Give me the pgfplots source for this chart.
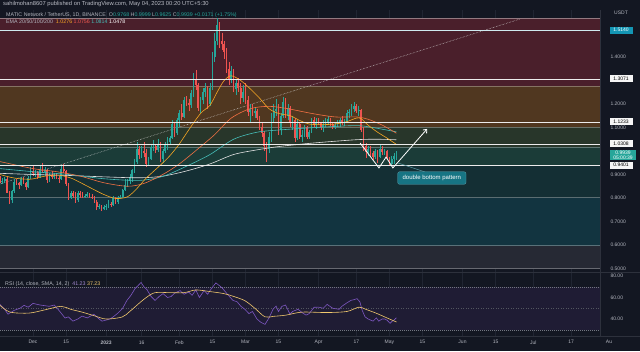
\documentclass[border=0pt]{standalone}
\usepackage{pgfplots}
\pgfplotsset{compat=1.18}
\usepackage{pgfplotstable}
\usepackage{fontspec}
\setmainfont{Liberation Sans}
\usetikzlibrary{arrows.meta}

\definecolor{bg}{RGB}{19,23,34}
\definecolor{txt}{RGB}{178,181,190}
\definecolor{upc}{RGB}{38,166,154}
\definecolor{dnc}{RGB}{239,83,80}
\definecolor{bRed}{RGB}{74,31,43}
\definecolor{bOra}{RGB}{80,55,32}
\definecolor{bOli}{RGB}{40,54,42}
\definecolor{bTg}{RGB}{27,60,56}
\definecolor{bDt}{RGB}{20,47,52}
\definecolor{bTb}{RGB}{18,52,64}
\definecolor{bGr}{RGB}{38,41,52}
\definecolor{emaA}{RGB}{245,166,35}
\definecolor{emaB}{RGB}{242,90,80}
\definecolor{emaC}{RGB}{70,190,185}
\definecolor{emaD}{RGB}{225,225,225}
\definecolor{rsiP}{RGB}{126,87,194}
\definecolor{rsiY}{RGB}{240,200,110}
\definecolor{rsiBand}{RGB}{31,28,52}
\definecolor{boxT}{RGB}{23,117,132}
\definecolor{lvlC}{RGB}{20,150,180}
\definecolor{gridc}{RGB}{32,37,50}
\definecolor{sepc}{RGB}{45,49,60}

\pgfplotstableread{
d O H L C
-14 0.878 0.895 0.862 0.870
-13 0.870 0.885 0.860 0.872
-12 0.872 0.890 0.865 0.882
-11 0.882 0.888 0.820 0.823
-10 0.823 0.830 0.775 0.790
-9 0.790 0.835 0.780 0.828
-8 0.828 0.880 0.822 0.866
-7 0.866 0.880 0.855 0.862
-6 0.862 0.868 0.840 0.855
-5 0.855 0.890 0.850 0.880
-4 0.880 0.890 0.860 0.865
-3 0.865 0.870 0.835 0.848
-2 0.848 0.895 0.845 0.885
-1 0.885 0.930 0.880 0.915
0 0.915 0.935 0.895 0.905
1 0.905 0.920 0.890 0.912
2 0.912 0.915 0.880 0.888
3 0.888 0.935 0.885 0.925
4 0.925 0.950 0.905 0.912
5 0.912 0.930 0.895 0.918
6 0.918 0.925 0.865 0.875
7 0.875 0.905 0.870 0.898
8 0.898 0.915 0.880 0.888
9 0.888 0.905 0.880 0.895
10 0.895 0.905 0.880 0.885
11 0.885 0.895 0.865 0.880
12 0.880 0.935 0.875 0.925
13 0.925 0.945 0.905 0.915
14 0.915 0.918 0.850 0.858
15 0.858 0.865 0.790 0.800
16 0.800 0.830 0.795 0.822
17 0.822 0.830 0.800 0.810
18 0.810 0.825 0.780 0.790
19 0.790 0.830 0.785 0.822
20 0.822 0.828 0.800 0.812
21 0.812 0.825 0.798 0.808
22 0.808 0.818 0.800 0.810
23 0.810 0.825 0.805 0.815
24 0.815 0.820 0.800 0.805
25 0.805 0.818 0.795 0.800
26 0.800 0.808 0.780 0.785
27 0.785 0.790 0.750 0.760
28 0.760 0.775 0.752 0.768
29 0.768 0.772 0.745 0.755
30 0.755 0.770 0.750 0.760
31 0.760 0.775 0.750 0.765
32 0.765 0.790 0.758 0.775
33 0.775 0.785 0.760 0.770
34 0.770 0.810 0.765 0.802
35 0.802 0.805 0.775 0.782
36 0.782 0.808 0.775 0.800
37 0.800 0.812 0.795 0.805
38 0.805 0.840 0.800 0.832
39 0.832 0.880 0.828 0.855
40 0.855 0.882 0.845 0.872
41 0.872 0.900 0.860 0.890
42 0.890 0.925 0.870 0.918
43 0.918 0.965 0.905 0.955
44 0.955 1.040 0.945 1.010
45 1.010 1.020 0.965 0.985
46 0.985 1.020 0.970 1.000
47 1.000 1.040 0.975 0.990
48 0.990 1.010 0.930 0.945
49 0.945 0.975 0.935 0.965
50 0.965 1.025 0.960 1.015
51 1.015 1.045 1.000 1.020
52 1.020 1.030 0.990 1.005
53 1.005 1.050 0.995 1.030
54 1.030 1.040 0.955 0.965
55 0.965 1.010 0.950 1.000
56 1.000 1.040 0.990 1.025
57 1.025 1.060 1.005 1.040
58 1.040 1.065 1.030 1.055
59 1.055 1.130 1.050 1.115
60 1.115 1.125 1.060 1.075
61 1.075 1.140 1.070 1.130
62 1.130 1.175 1.100 1.160
63 1.160 1.200 1.130 1.145
64 1.145 1.230 1.140 1.215
65 1.215 1.235 1.190 1.205
66 1.205 1.220 1.170 1.195
67 1.195 1.260 1.185 1.245
68 1.245 1.330 1.230 1.300
69 1.300 1.345 1.260 1.280
70 1.280 1.290 1.170 1.185
71 1.185 1.230 1.160 1.215
72 1.215 1.270 1.200 1.250
73 1.250 1.290 1.230 1.270
74 1.270 1.275 1.180 1.200
75 1.200 1.290 1.190 1.270
76 1.270 1.420 1.260 1.400
77 1.400 1.500 1.380 1.470
78 1.470 1.565 1.450 1.535
79 1.535 1.550 1.440 1.470
80 1.470 1.500 1.430 1.455
81 1.455 1.470 1.390 1.420
82 1.420 1.440 1.330 1.350
83 1.350 1.380 1.280 1.300
84 1.300 1.360 1.290 1.340
85 1.340 1.350 1.250 1.265
86 1.265 1.300 1.240 1.290
87 1.290 1.310 1.250 1.270
88 1.270 1.290 1.200 1.225
89 1.225 1.280 1.210 1.250
90 1.250 1.290 1.200 1.215
91 1.215 1.235 1.150 1.165
92 1.165 1.200 1.120 1.180
93 1.180 1.200 1.150 1.160
94 1.160 1.185 1.140 1.170
95 1.170 1.180 1.130 1.140
96 1.140 1.150 1.090 1.100
97 1.100 1.120 1.060 1.075
98 1.075 1.085 1.000 1.020
99 1.020 1.040 0.955 1.010
100 1.010 1.080 0.990 1.060
101 1.060 1.160 1.040 1.140
102 1.140 1.200 1.120 1.170
103 1.170 1.220 1.150 1.180
104 1.180 1.200 1.070 1.090
105 1.090 1.160 1.070 1.150
106 1.150 1.230 1.140 1.210
107 1.210 1.225 1.140 1.150
108 1.150 1.200 1.130 1.185
109 1.185 1.190 1.100 1.120
110 1.120 1.150 1.090 1.130
111 1.130 1.140 1.040 1.055
112 1.055 1.130 1.045 1.115
113 1.115 1.125 1.050 1.060
114 1.060 1.090 1.040 1.070
115 1.070 1.110 1.060 1.100
116 1.100 1.105 1.050 1.060
117 1.060 1.090 1.050 1.080
118 1.080 1.140 1.075 1.130
119 1.130 1.145 1.100 1.110
120 1.110 1.140 1.095 1.125
121 1.125 1.140 1.110 1.120
122 1.120 1.125 1.090 1.100
123 1.100 1.130 1.080 1.110
124 1.110 1.140 1.100 1.125
125 1.125 1.150 1.110 1.135
126 1.135 1.140 1.105 1.115
127 1.115 1.125 1.095 1.105
128 1.105 1.120 1.095 1.110
129 1.110 1.130 1.100 1.120
130 1.120 1.140 1.100 1.130
131 1.130 1.150 1.110 1.120
132 1.120 1.135 1.105 1.125
133 1.125 1.175 1.120 1.160
134 1.160 1.180 1.140 1.165
135 1.165 1.200 1.150 1.180
136 1.180 1.210 1.165 1.190
137 1.190 1.200 1.160 1.170
138 1.170 1.190 1.150 1.175
139 1.175 1.180 1.080 1.090
140 1.090 1.100 1.000 1.020
141 1.020 1.035 0.970 0.995
142 0.995 1.020 0.980 1.010
143 1.010 1.020 0.980 0.990
144 0.990 1.000 0.960 0.975
145 0.975 1.010 0.965 1.000
146 1.000 1.005 0.950 0.975
147 0.975 1.030 0.970 1.010
148 1.010 1.020 0.985 0.995
149 0.995 1.010 0.985 1.002
150 1.002 1.005 0.960 0.970
151 0.970 0.975 0.935 0.945
152 0.945 0.980 0.935 0.965
153 0.965 0.990 0.945 0.977
154 0.977 0.9999 0.9625 0.9939
}\candles

\pgfplotsset{
  tlab/.style={font=\fontsize{5}{6}\selectfont, text=txt},
  candlebase/.style={draw=none, mark=none, forget plot,
    error bars/y dir=both, error bars/y explicit, error bars/error mark=none},
}

\begin{document}
\begin{tikzpicture}[x=1pt,y=1pt]
\useasboundingbox (0,0) rectangle (640,351);
\fill[bg] (0,0) rectangle (640,351);

% ---------------- main price panel ----------------
\begin{axis}[
  at={(0pt,341pt)}, anchor=north west,
  width=600pt, height=262pt, scale only axis,
  xmin=-13.983, xmax=240.254, ymin=0.48511, ymax=1.6,
  axis line style={draw=none}, tick style={draw=none},
  xtick={0,14,31,46,62,76,90,104,121,137,151,165,182,196,212,228},
  xticklabels={},
  ytick={0.5,0.6,0.7,0.8,0.9,1.1,1.2,1.4},
  yticklabel pos=right,
  yticklabel style={tlab, xshift=7pt},
  y tick label style={/pgf/number format/fixed, /pgf/number format/fixed zerofill,
     /pgf/number format/precision=4, /pgf/number format/assume math mode=true},
  xmajorgrids, ymajorgrids, grid style={gridc, line width=0.3pt},
]
% fib bands
\addplot[fill=bRed, draw=none, forget plot] coordinates {(-20,1.277) (250,1.277) (250,1.566) (-20,1.566)} --cycle;
\addplot[fill=bOra, draw=none, forget plot] coordinates {(-20,1.102) (250,1.102) (250,1.277) (-20,1.277)} --cycle;
\addplot[fill=bOli, draw=none, forget plot] coordinates {(-20,1.017) (250,1.017) (250,1.102) (-20,1.102)} --cycle;
\addplot[fill=bTg, draw=none, forget plot] coordinates {(-20,0.940) (250,0.940) (250,1.017) (-20,1.017)} --cycle;
\addplot[fill=bDt, draw=none, forget plot] coordinates {(-20,0.804) (250,0.804) (250,0.940) (-20,0.940)} --cycle;
\addplot[fill=bTb, draw=none, forget plot] coordinates {(-20,0.600) (250,0.600) (250,0.804) (-20,0.804)} --cycle;
\addplot[fill=bGr, draw=none, forget plot] coordinates {(-20,0.502) (250,0.502) (250,0.600) (-20,0.600)} --cycle;
% band boundary lines
\addplot[bRed!60!white, line width=0.4pt, forget plot] coordinates {(-20,1.566) (250,1.566)};
\addplot[bOra!70!white, line width=0.4pt, forget plot] coordinates {(-20,1.277) (250,1.277)};
\addplot[bOli!70!white, line width=0.4pt, forget plot] coordinates {(-20,1.102) (250,1.102)};
\addplot[bTg!70!white, line width=0.4pt, forget plot] coordinates {(-20,1.017) (250,1.017)};
\addplot[bDt!70!white, line width=0.4pt, forget plot] coordinates {(-20,0.804) (250,0.804)};
\addplot[bTb!70!white, line width=0.4pt, forget plot] coordinates {(-20,0.600) (250,0.600)};
\addplot[bGr!70!white, line width=0.4pt, forget plot] coordinates {(-20,0.502) (250,0.502)};
% dotted trend line
\addplot[white!70!gray, densely dotted, line width=0.5pt, forget plot] coordinates {(-14,0.8596) (206.4,1.5617)};

% candles up
\addplot[candlebase, restrict expr to domain={\thisrow{C}-\thisrow{O}}{0:5},
  error bars/error bar style={draw=upc, line width=0.45pt}]
  table[x=d, y=O, y error plus expr=\thisrow{H}-\thisrow{O}, y error minus expr=\thisrow{O}-\thisrow{L}]{\candles};
\addplot[candlebase, restrict expr to domain={\thisrow{C}-\thisrow{O}}{0:5},
  error bars/error bar style={draw=upc, line width=1.7pt}]
  table[x=d, y=O, y error plus expr=\thisrow{C}-\thisrow{O}, y error minus expr=0]{\candles};
% candles down
\addplot[candlebase, restrict expr to domain={\thisrow{O}-\thisrow{C}}{0.00001:5},
  error bars/error bar style={draw=dnc, line width=0.45pt}]
  table[x=d, y=O, y error plus expr=\thisrow{H}-\thisrow{O}, y error minus expr=\thisrow{O}-\thisrow{L}]{\candles};
\addplot[candlebase, restrict expr to domain={\thisrow{O}-\thisrow{C}}{0.00001:5},
  error bars/error bar style={draw=dnc, line width=1.7pt}]
  table[x=d, y=O, y error plus expr=0, y error minus expr=\thisrow{O}-\thisrow{C}]{\candles};

% EMAs
\addplot[emaD, line width=0.6pt, smooth, forget plot] coordinates {(-14,0.905) (0,0.900) (15,0.896) (30,0.890) (45,0.886) (55,0.893) (65,0.915) (75,0.945) (85,0.985) (95,1.005) (105,1.020) (120,1.035) (137,1.048) (146,1.050) (154,1.0478)};
\addplot[emaC, line width=0.6pt, smooth, forget plot] coordinates {(-14,0.925) (0,0.912) (15,0.900) (30,0.882) (45,0.875) (55,0.892) (65,0.935) (75,0.985) (85,1.050) (95,1.080) (105,1.090) (120,1.100) (137,1.108) (145,1.098) (154,1.0814)};
\addplot[emaB!70!emaA, line width=0.6pt, smooth, forget plot] coordinates {(-14,0.955) (0,0.925) (10,0.912) (20,0.893) (30,0.865) (40,0.850) (47,0.862) (55,0.900) (62,0.945) (70,1.010) (77,1.070) (84,1.140) (92,1.180) (100,1.190) (108,1.180) (118,1.160) (128,1.145) (137,1.145) (142,1.135) (148,1.110) (154,1.0756)};
\addplot[emaA, line width=0.6pt, smooth, forget plot] coordinates {(-14,0.900) (-8,0.885) (-1,0.880) (5,0.893) (11,0.897) (16,0.885) (20,0.866) (25,0.840) (30,0.815) (35,0.798) (40,0.805) (44,0.840) (48,0.885) (54,0.940) (58,0.980) (62,1.030) (66,1.090) (71,1.160) (75,1.195) (78,1.250) (81,1.300) (84,1.320) (88,1.300) (92,1.265) (96,1.225) (100,1.180) (104,1.160) (109,1.150) (113,1.130) (117,1.115) (122,1.112) (128,1.115) (133,1.125) (137,1.140) (139,1.138) (142,1.110) (146,1.080) (150,1.055) (154,1.028)};

% horizontal levels
\addplot[white!80!lvlC, line width=0.5pt, forget plot] coordinates {(-20,1.514) (250,1.514)};
\addplot[white!85!gray, line width=0.5pt, forget plot] coordinates {(-20,1.3071) (250,1.3071)};
\addplot[white!85!gray, line width=0.5pt, forget plot] coordinates {(-20,1.1233) (250,1.1233)};
\addplot[white!85!gray, line width=0.5pt, forget plot] coordinates {(-20,1.0308) (250,1.0308)};
\addplot[white!85!gray, line width=0.5pt, forget plot] coordinates {(-20,0.9401) (250,0.9401)};

% double bottom pattern
\addplot[white, line width=0.8pt, -{Straight Barb[length=3pt,width=5pt]}, forget plot] coordinates {(138.6,1.034) (146.6,0.928) (149.6,0.974) (152.5,0.928) (167,1.094)};
\addplot[boxT!70!white, line width=0.5pt, forget plot] coordinates {(154.7,0.949) (166,0.911)};
\node[fill=boxT, draw=boxT!70!white, line width=0.3pt, rounded corners=2pt, text=white,
  font=\fontsize{6}{7}\selectfont, inner xsep=5pt, inner ysep=3.5pt] at (axis cs:169,0.885) {double bottom pattern};
\end{axis}

% ---------------- RSI panel ----------------
\begin{axis}[
  at={(0pt,79pt)}, anchor=north west,
  width=600pt, height=64pt, scale only axis,
  xmin=-13.983, xmax=240.254, ymin=24.2, ymax=83.7,
  axis line style={draw=none}, tick style={draw=none},
  xtick={0,14,31,46,62,76,90,104,121,137,151,165,182,196,212,228},
  xticklabels={Dec,15,\textbf{2023},16,Feb,15,Mar,15,Apr,17,May,15,Jun,15,Jul,17},
  xticklabel style={tlab, yshift=-1pt},
  ytick={40,60,80},
  yticklabel pos=right,
  yticklabel style={tlab, xshift=7pt},
  y tick label style={/pgf/number format/fixed, /pgf/number format/fixed zerofill,
     /pgf/number format/precision=2, /pgf/number format/assume math mode=true},
  xmajorgrids, grid style={gridc, line width=0.3pt},
]
\addplot[fill=rsiBand, draw=none, forget plot] coordinates {(-20,30) (250,30) (250,70) (-20,70)} --cycle;
\addplot[txt!60!bg, dash pattern=on 1pt off 1pt, line width=0.4pt, forget plot] coordinates {(-20,70) (250,70)};
\addplot[txt!40!bg, dash pattern=on 1pt off 1.5pt, line width=0.4pt, forget plot] coordinates {(-20,50) (250,50)};
\addplot[txt!60!bg, dash pattern=on 1pt off 1pt, line width=0.4pt, forget plot] coordinates {(-20,30) (250,30)};
\addplot[rsiP, line width=0.6pt, forget plot] coordinates {(-14,53.6) (-12,49) (-10.6,44.5) (-8,48) (-5.5,50) (-3.8,52.7) (-2,51) (0,54.5) (3,53) (6.8,51.8) (9,53) (11,48) (13.6,40.9) (15,42) (16.9,38) (19,40) (20.8,42.7) (23,41) (25.8,44.5) (27.5,41) (29.2,38) (31,39) (32.6,40) (34,42) (36,45.5) (38,50) (39.8,57.3) (41.5,62) (43.2,68.2) (44.5,71) (45.8,74) (47,70) (48.3,67.3) (50,61) (51.7,57.3) (53.5,61) (55.1,63.6) (57,60) (58.5,60.9) (60,64) (62.3,66.4) (64,63) (66,65) (67.4,62) (69,67) (70.5,60) (72.5,66.4) (74,63) (75.5,68) (77.5,73.6) (80.1,69) (82,64) (84.7,57.3) (86.5,56) (88,52) (89.8,49) (91.5,45) (93,47) (94.9,40) (96.5,37) (98.3,35) (100,41) (101.7,49) (103,52) (104,47) (105.5,51.8) (107,53) (108.9,44.5) (110,47) (112.3,49) (114,46) (115.7,43.6) (117,45) (119.1,50.9) (121,51) (123,50) (124.6,53.6) (127,50) (129.7,49) (131,52) (133,55) (134.7,57.3) (136,58) (137.3,58.9) (138.5,56) (139.5,48) (140.7,42) (142,40) (144.1,38) (145.5,41) (146.5,38) (147.9,40) (149,40) (150,39) (151.3,36) (152.2,38) (153,39) (154,41.2)};
\addplot[rsiY, line width=0.6pt, smooth, forget plot] coordinates {(-14,52.7) (-9.7,46.4) (-1.7,45.5) (5,48.5) (11.9,51.8) (16,49) (20.8,46.4) (26,43) (30.9,40) (37.7,41.8) (41,47) (44.9,54.5) (48,60) (51.7,64.5) (58,64.5) (64,64.5) (69,67) (75,65.5) (80.9,63.6) (85,61) (89.8,57) (94,50) (98.3,42) (102,42.5) (107.2,43.6) (114,46.4) (124.6,46) (133,47) (138.1,51) (141,49) (145.3,45.5) (150,41) (154,37.2)};
\end{axis}

% ---------------- separators ----------------
\draw[sepc, line width=0.6pt] (0,79) -- (640,79);
\draw[sepc, line width=0.5pt] (0,15) -- (640,15);
\draw[sepc, line width=0.5pt] (600,15) -- (600,341);

% ---------------- texts ----------------
\node[anchor=west, font=\fontsize{5.8}{6}\selectfont, text=txt!90!white, inner sep=0] at (3,346.5)
  {sahilmohan8607 published on TradingView.com, May 04, 2023 00:20 UTC+5:30};
\node[anchor=west, font=\fontsize{5.3}{6}\selectfont, text=txt, inner sep=0] at (6,336)
  {MATIC Network / TetherUS, 1D, BINANCE\ \ O\textcolor{upc}{0.9768}\ H\textcolor{upc}{0.9999}\ L\textcolor{upc}{0.9625}\ C\textcolor{upc}{0.9939}\ \textcolor{upc}{+0.0171 (+1.75\%)}};
\node[anchor=west, font=\fontsize{5.3}{6}\selectfont, text=txt, inner sep=0] at (6,329.5)
  {EMA 20/50/100/200\ \ \textcolor{emaA}{1.0276}\ \textcolor{emaB}{1.0756}\ \textcolor{emaC}{1.0814}\ \textcolor{white}{1.0478}};
\node[anchor=west, font=\fontsize{5.3}{6}\selectfont, text=txt, inner sep=0] at (5,67)
  {RSI (14, close, SMA, 14, 2)\ \ \textcolor{rsiP!70!white}{41.23}\ \textcolor{rsiY}{37.23}};
\node[font=\fontsize{5}{6}\selectfont, text=txt, inner sep=0] at (621,338) {USDT};
\node[font=\fontsize{5}{6}\selectfont, text=txt, inner sep=0] at (609,9) {Au};

% level labels on price scale
\tikzset{lvl/.style={fill=white!92!gray, text=black, font=\fontsize{5}{5}\selectfont, inner sep=0.6pt, minimum width=23pt, minimum height=7pt}}
\node[lvl, fill=lvlC, text=white] at (621,{351-30.2}) {1.5140};
\node[lvl] at (621,{351-78.8}) {1.3071};
\node[lvl] at (621,{351-122.0}) {1.1233};
\node[lvl] at (621,{351-143.8}) {1.0308};
\node[fill=upc, text=white, font=\fontsize{5}{6}\selectfont, inner sep=1pt, minimum width=26pt, align=center] at (623,{351-155}) {0.9939\\[-1pt]05:00:39};
\node[lvl] at (621,{351-165.1}) {0.9401};
\end{tikzpicture}
\end{document}
